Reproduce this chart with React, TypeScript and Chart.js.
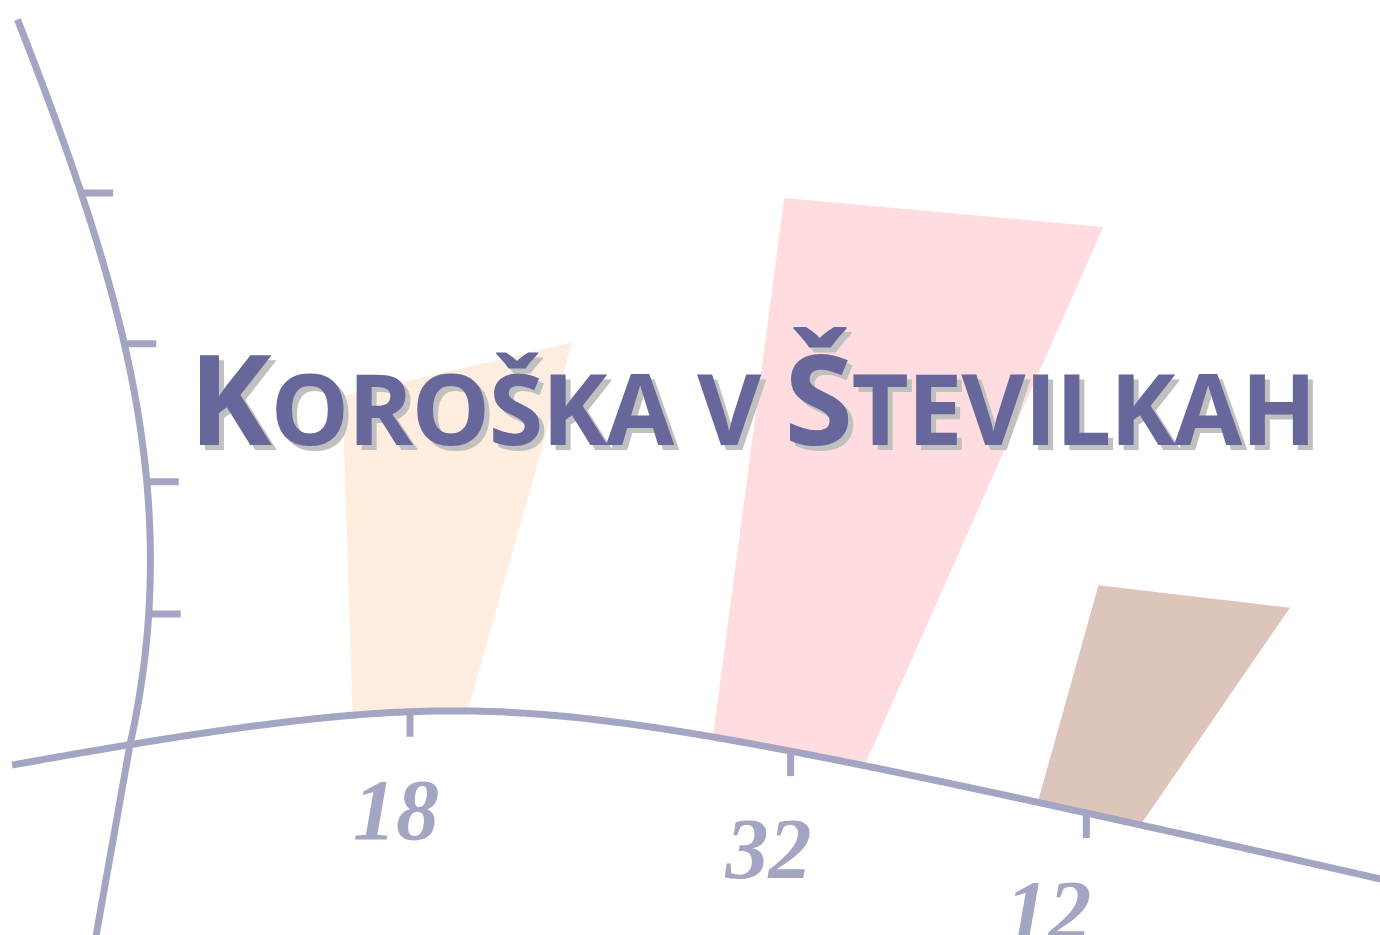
import React, { useEffect, useRef } from 'react';
import { Chart, registerables } from 'chart.js';

Chart.register(...registerables);

// ---- data ----
const CATEGORIES = ['18', '32', '12'];
const VALUES = [18, 32, 12];
const BAR_COLORS = ['#FFEEDF', '#FEDCDF', '#DEC5BC'];
const Y_MIN = 0;
const Y_MAX = 50;
const Y_STEP = 10;
const TITLE = 'Koroška v Številkah';

// ---- styles ----
const AXIS_COLOR = '#A4A4C3';
const TITLE_COLOR = '#67679B';
const SHADOW_COLOR = '#C0C0C0';
const TITLE_FONT = '"Open Sans", "Noto Sans", sans-serif';
const LABEL_FONT = '"Liberation Serif", "DejaVu Serif", serif';

const warpPlugin = {
  id: 'warpDraw',
  beforeDatasetsDraw() {
    return false;
  },
  afterDraw(chart: any) {
    const ctx: CanvasRenderingContext2D = chart.ctx;
    const xs = chart.scales.x;
    const ys = chart.scales.y;
    const area = chart.chartArea;
    const B = ys.getPixelForValue(Y_MIN);
    const mid = (area.left + area.right) / 2;
    const bendX = area.left + 228;

    // smooth distortion of the plotting plane
    const sx = (x: number) => x + 64 * Math.exp(-(((x - (mid + 90)) / 150) ** 2));
    const by = (X: number) => {
      const dx = X - bendX;
      return B - 34 + 0.22 * (Math.sqrt(dx * dx + 240 * 240) - 240) + 0.015 * dx;
    };
    const lean = (x: number) =>
      0.18 + 0.15 * Math.pow(Math.max(0, x - (area.left + 158)) / 346, 1.585);
    const vh = (h: number) => 1.3 * h - 0.0003 * h * h;
    const lift = (X: number, h: number) => 0.19 * h * Math.exp(-(((X - (bendX + 100)) / 90) ** 2));
    const SPREAD = 0.22;

    ctx.save();

    // bars
    const meta = chart.getDatasetMeta(0);
    const colors = chart.data.datasets[0].backgroundColor;
    meta.data.forEach((el: any, i: number) => {
      const p = el.getProps(['x', 'y', 'base', 'width'], true);
      const h = p.base - p.y;
      const XL = sx(p.x - p.width / 2);
      const XR = sx(p.x + p.width / 2);
      const cx = sx(p.x) + lean(p.x) * h;
      const half = p.width / 2 + SPREAD * h;
      const TL = cx - half;
      const TR = cx + half;
      ctx.beginPath();
      ctx.moveTo(XL, by(XL));
      ctx.lineTo(XR, by(XR));
      ctx.lineTo(TR, by(XR) - vh(h) - lift(TR, h));
      ctx.lineTo(TL, by(XL) - vh(h) - lift(TL, h));
      ctx.closePath();
      ctx.fillStyle = colors[i];
      ctx.fill();
    });

    // axes
    ctx.strokeStyle = AXIS_COLOR;
    ctx.lineWidth = 7;
    ctx.lineCap = 'butt';
    ctx.lineJoin = 'round';

    // x axis
    ctx.beginPath();
    const xStart = area.left - 230;
    for (let X = xStart; X <= chart.width + 20; X += 4) {
      if (X === xStart) ctx.moveTo(X, by(X));
      else ctx.lineTo(X, by(X));
    }
    ctx.stroke();

    // y axis
    const yx = sx(area.left - 112);
    const y0 = by(yx);
    const yw = (h: number) => ({
      X: yx + (h < 0 ? 0.16 * h : 0.2 * h - 0.00049 * h * h),
      Y: y0 - (h < 0 ? 0.9 * h : 0.9 * h + 2.63e-10 * h * h * h * h),
    });
    const hTop = B - ys.getPixelForValue(Y_MAX);
    ctx.beginPath();
    for (let h = -240; h <= hTop; h += 4) {
      const q = yw(h);
      if (h === -240) ctx.moveTo(q.X, q.Y);
      else ctx.lineTo(q.X, q.Y);
    }
    const qt = yw(hTop);
    ctx.lineTo(qt.X, qt.Y);
    ctx.stroke();

    // y ticks
    ys.ticks
      .filter((t: any) => t.value > Y_MIN && t.value < Y_MAX)
      .forEach((t: any) => {
        const q = yw(B - ys.getPixelForValue(t.value));
        ctx.beginPath();
        ctx.moveTo(q.X, q.Y);
        ctx.lineTo(q.X + 32, q.Y);
        ctx.stroke();
      });

    // x ticks and labels
    ctx.fillStyle = AXIS_COLOR;
    ctx.font = `italic bold 86px ${LABEL_FONT}`;
    ctx.textAlign = 'center';
    ctx.textBaseline = 'alphabetic';
    chart.data.labels.forEach((lab: string, i: number) => {
      const x = xs.getPixelForValue(i);
      const X = sx(x);
      const Y = by(X);
      ctx.beginPath();
      ctx.moveTo(X, Y);
      ctx.lineTo(X, Y + 25);
      ctx.stroke();
      ctx.fillText(lab, X - 4 - 55 * lean(x), Y + 100 + 27);
    });

    // title in small caps with a hard shadow
    const bigSize = 125;
    const smallSize = 99;
    (ctx as any).letterSpacing = '-1.5px';
    const runs = Array.from(TITLE).map((ch) => {
      const big = ch !== ' ' && ch === ch.toUpperCase();
      return { t: ch.toUpperCase(), font: `bold ${big ? bigSize : smallSize}px ${TITLE_FONT}` };
    });
    let total = 0;
    const widths = runs.map((r) => {
      ctx.font = r.font;
      const w = ctx.measureText(r.t).width;
      total += w;
      return w;
    });
    const baseLine = area.top + 425;
    ctx.textAlign = 'left';
    const pass = (color: string, off: number) => {
      let cx = mid + 6 - total / 2;
      ctx.fillStyle = color;
      runs.forEach((r, i) => {
        ctx.font = r.font;
        ctx.fillText(r.t, cx + off, baseLine + off);
        cx += widths[i];
      });
    };
    pass(SHADOW_COLOR, 5);
    pass(TITLE_COLOR, 0);

    ctx.restore();
  },
};

export default function App() {
  const ref = useRef<HTMLCanvasElement | null>(null);
  useEffect(() => {
    if (!ref.current) return;
    const chart = new Chart(ref.current, {
      type: 'bar',
      data: {
        labels: CATEGORIES,
        datasets: [
          {
            data: VALUES,
            backgroundColor: BAR_COLORS,
            barPercentage: 0.57,
            categoryPercentage: 0.6,
          },
        ],
      },
      options: {
        animation: false,
        responsive: false,
        events: [],
        layout: { padding: { left: 242, right: 130, top: 20, bottom: 190 } },
        scales: {
          x: { display: false },
          y: { display: false, min: Y_MIN, max: Y_MAX, ticks: { stepSize: Y_STEP } },
        },
        plugins: {
          legend: { display: false },
          tooltip: { enabled: false },
          title: { display: false, text: TITLE },
        },
      },
      plugins: [warpPlugin],
    });
    return () => chart.destroy();
  }, []);

  return (
    <div style={{ position: 'fixed', left: 0, top: 0, width: 1380, height: 935, background: '#ffffff' }}>
      <canvas ref={ref} width={1380} height={935} style={{ display: 'block' }} />
    </div>
  );
}
